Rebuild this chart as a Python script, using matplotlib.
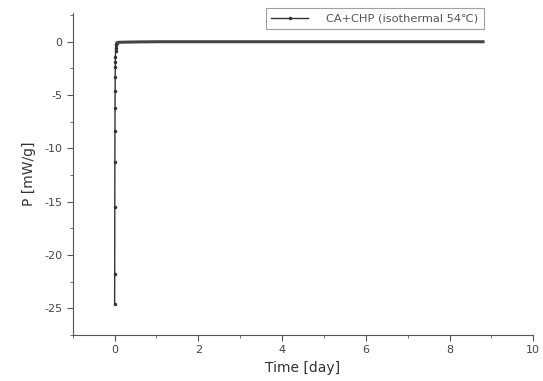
import matplotlib.pyplot as plt
from matplotlib.ticker import MultipleLocator

plt.rcParams['axes.unicode_minus'] = False

# heat flow data
time_day = [0.000, 0.002, 0.004, 0.006, 0.008, 0.010, 0.012, 0.014, 0.016,
            0.018, 0.020, 0.022, 0.024, 0.030, 0.040, 0.060, 0.100,
            0.5, 1.0, 2.0, 3.0, 4.0, 5.0, 6.0, 7.0, 8.0, 8.8]
power = [-24.6, -21.8, -15.5, -11.3, -8.4, -6.2, -4.6, -3.3, -2.4,
         -1.9, -1.4, -0.9, -0.6, -0.35, -0.2, -0.1, -0.05,
         -0.02, 0.0, 0.0, 0.0, 0.0, 0.0, 0.0, 0.0, 0.0, 0.0]
label = 'CA+CHP (isothermal 54\u2103)'

fig = plt.figure(figsize=(5.43, 3.81), dpi=100)
ax = fig.add_axes([0.134, 0.121, 0.848, 0.845])

ax.plot(time_day, power, color='#333333', lw=1.0, marker='o', ms=1.5,
        markevery=list(range(16)), label=label)
# flat part looks thick from dense markers
ax.plot(time_day[15:], power[15:], color='#444444', lw=2.2)

ax.set_xlim(-1, 10)
ax.set_ylim(-27.5, 2.7)
ax.xaxis.set_major_locator(MultipleLocator(2))
ax.xaxis.set_minor_locator(MultipleLocator(1))
ax.yaxis.set_major_locator(MultipleLocator(5))
ax.yaxis.set_minor_locator(MultipleLocator(2.5))
ax.tick_params(which='both', direction='out', colors='#555555', labelsize=8,
               labelcolor='#444444')
ax.tick_params(which='major', length=4)
ax.tick_params(which='minor', length=2)
for s in ['top', 'right']:
    ax.spines[s].set_visible(False)
for s in ['left', 'bottom']:
    ax.spines[s].set_color('#555555')

ax.set_xlabel('Time [day]', fontsize=10, color='#333333', labelpad=4)
ax.set_ylabel('P [mW/g]', fontsize=10, color='#333333', labelpad=6)

leg = ax.legend(loc='upper right', bbox_to_anchor=(0.905, 1.033), fontsize=8.2,
                frameon=True, fancybox=False, handlelength=3.2,
                handletextpad=1.6, borderpad=0.5, labelcolor='#555555')
leg.get_frame().set_edgecolor('#888888')
leg.get_frame().set_linewidth(0.8)

fig.savefig('out.png', dpi=100)
